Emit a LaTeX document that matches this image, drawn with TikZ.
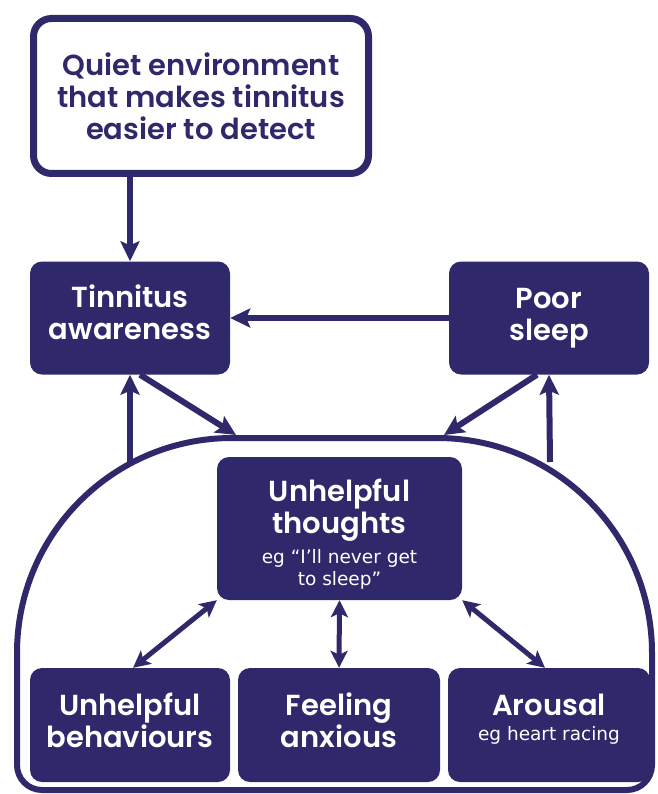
\documentclass[tikz,border=0pt]{standalone}
\usepackage{fontspec}
\setmainfont{Poppins}[BoldFont={Poppins SemiBold}]
\newfontfamily\egfont{DejaVu Sans}
\usetikzlibrary{arrows.meta}
\definecolor{navy}{RGB}{47,41,107}
\tikzset{
    every node/.style={rounded corners=12pt, align=center, inner sep=0pt,
    	font=\fontsize{29}{32}\selectfont\bfseries}
}
\tikzset{
    box/.style={fill=navy, text=white, minimum width=200pt, minimum height=113pt}
}
\tikzset{
    link/.style={draw=navy, line width=6pt, -{Stealth[length=20pt, width=19pt, inset=4pt]}},
    twoway/.style={draw=navy, line width=5pt,
    	{Stealth[length=17pt, width=17pt, inset=4pt]}-{Stealth[length=17pt, width=17pt, inset=4pt]}}
}
\newcommand{\egtext}{\egfont\mdseries\fontsize{18.5}{22}\selectfont}
\newcommand{\lift}[1]{\rule[-#1]{0pt}{0pt}}

\begin{document}
\begin{tikzpicture}[x=1pt, y=-1pt]
	\useasboundingbox (0,0) rectangle (657,794);
	\node (quiet) [draw=navy, line width=7pt, rounded corners=18pt, text=navy,
		minimum width=335pt, minimum height=155pt] at (201,96)
		{Quiet environment\\that makes tinnitus\\easier to detect};
	\node (aware) [box] at (130,318) {Tinnitus\\awareness\lift{12pt}};
	\node (sleep) [box] at (549,318) {Poor\\sleep};
	\node (thoughts) [box, minimum width=245pt, minimum height=143pt] at (339.5,528.5)
		{\rule{0pt}{34pt}Unhelpful\\thoughts\\[-2pt]\egtext eg “I’ll never get\\[-10pt]\egtext to sleep”};
	\node (behav) [box, minimum height=114pt] at (130,725) {Unhelpful\\behaviours\lift{10pt}};
	\node (anxious) [box, minimum width=202pt, minimum height=114pt] at (339,725) {Feeling\\anxious\lift{9pt}};
	\node (arousal) [box, minimum width=202pt, minimum height=114pt] at (549,725)
		{Arousal\\[-7pt]\egtext eg heart racing\lift{16pt}};
	
	% the loop round the lower part
	\draw [navy, line width=6pt] (330,790) [rounded corners=25pt] -- (17,790)
		[rounded corners=215pt] -- (17,438) -- (652,438)
		[rounded corners=25pt] -- (652,790) -- cycle;
	\coordinate (cl) at (130,462);
	\coordinate (cr) at (550,462);
	\coordinate (tl) at (236,435);
	\coordinate (tr) at (444,435);
	
	\draw [link] (quiet.south -| aware.north) -- (aware.north);
	\draw [link] (sleep.west) -- (aware.east);
	\draw [link] (cl) -- (aware.south); \draw [link] (cr) -- (sleep.south);
	\draw [link] ([xshift=10pt]aware.south) -- (tl);
	\draw [link] ([xshift=-12pt]sleep.south) -- (tr);
	
	\draw [twoway] (thoughts.south west) -- ([xshift=3pt]behav.north);
	\draw [twoway] (thoughts.south) -- (anxious.north);
	\draw [twoway] (thoughts.south east) -- ([xshift=-4pt]arousal.north);
\end{tikzpicture}
\end{document}
